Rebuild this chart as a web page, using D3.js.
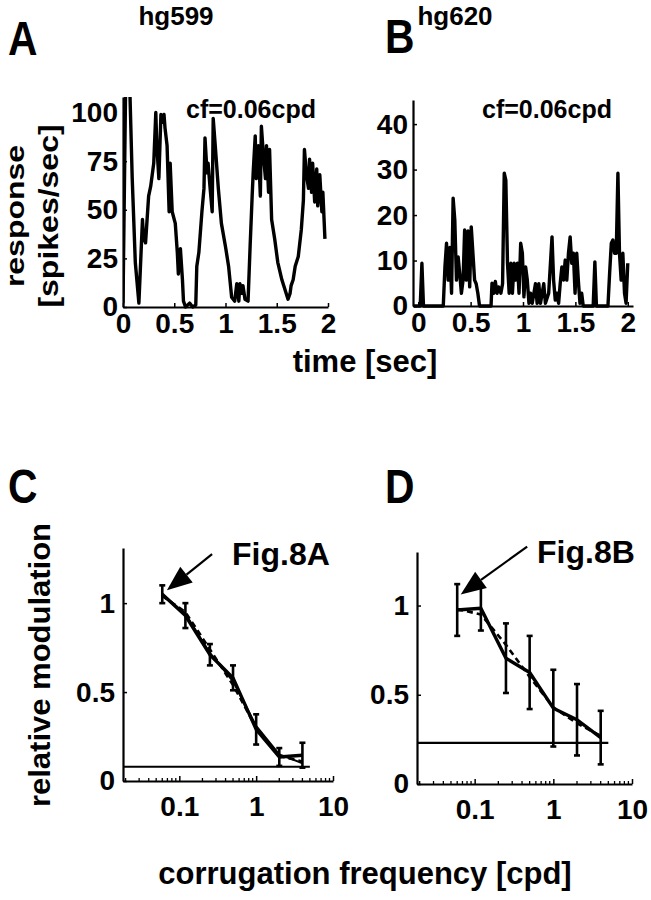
<!DOCTYPE html>
<html><head><meta charset="utf-8">
<script src="https://cdn.jsdelivr.net/npm/d3@7"></script>
<style>
body{margin:0;background:#fff}
svg text{font-family:"Liberation Sans",Arial,Helvetica,sans-serif;font-weight:bold;fill:#000}
</style></head>
<body>
<svg id="fig" width="651" height="900"></svg>
<script>
// ---------- data ----------
const cellA = "hg599", cellB = "hg620";
const cfLabel = "cf=0.06cpd";
const timeA = [0,0.026,0.065,0.09,0.12,0.155,0.19,0.20,0.22,0.25,0.27,0.30,0.32,0.33,0.35,0.37,0.38,0.40,0.41,0.43,0.45,0.46,0.48,0.51,0.53,0.54,0.56,0.58,0.59,0.61,0.65,0.68,0.71,0.72,0.74,0.77,0.79,0.80,0.82,0.83,0.85,0.87,0.88,0.90,0.93,0.96,1.00,1.03,1.06,1.09,1.11,1.13,1.14,1.16,1.17,1.19,1.22,1.24,1.26,1.27,1.29,1.30,1.32,1.34,1.35,1.37,1.39,1.40,1.42,1.43,1.45,1.48,1.51,1.55,1.58,1.61,1.63,1.64,1.66,1.68,1.71,1.74,1.76,1.77,1.79,1.81,1.82,1.84,1.85,1.87,1.89,1.90,1.92,1.94,1.95,1.97];
const rateA = [2,115,115,66,23,2,45,36,33,57,62,74,100,83,66,99,95,99,92,83,49,74,49,43,28,17,30,14,3,0,2,0,1,21,28,49,61,87,69,74,61,49,97,83,61,43,31,21,5,3,12,3,12,7,11,4,3,31,57,69,88,66,83,57,93,78,66,83,59,81,45,35,23,14,9,4,7,11,14,21,26,40,55,81,68,61,76,59,74,54,71,52,68,49,59,35];
const timeB = [-0.04,0.019,0.035,0.05,0.239,0.255,0.270,0.286,0.302,0.318,0.333,0.349,0.365,0.381,0.396,0.412,0.428,0.443,0.459,0.475,0.491,0.506,0.522,0.538,0.553,0.569,0.585,0.695,0.704,0.720,0.736,0.752,0.767,0.789,0.805,0.821,0.836,0.852,0.868,0.884,0.899,0.915,0.931,0.947,0.962,0.978,0.994,1.009,1.025,1.041,1.057,1.072,1.088,1.119,1.135,1.151,1.167,1.198,1.214,1.245,1.277,1.292,1.308,1.324,1.340,1.355,1.371,1.387,1.403,1.418,1.434,1.450,1.465,1.481,1.497,1.513,1.528,1.544,1.560,1.575,1.670,1.686,1.701,1.811,1.827,1.843,1.858,1.874,1.890,1.906,1.921,1.937,1.953,1.969,1.984,2.000,2.016];
const rateB = [0,0,9.4,0,0,8.6,13.8,5.7,12.9,2.8,23.7,18.9,5.7,10.8,7.1,2.8,5.7,16.7,5.7,16.5,4.2,17.4,11.6,5.7,4.9,2.8,0,0,5,2.8,5.4,2.8,4.2,2.8,4.9,29.2,27.7,9.4,2.8,9.4,2.8,9.4,5.7,9.4,2.8,13.8,11.6,2,8.6,5.7,0.6,2.8,0.6,4.9,0.6,4.9,0.6,4.9,0.6,2.8,15.2,5.7,1.3,2.8,0.6,4.9,8.6,5.7,10.1,5.7,11.6,15.2,9.4,11.6,2.8,11.6,5.7,0.6,2.8,0,0,9.7,0,0,7.3,13.8,14.5,11.6,11.6,29.2,11.6,5.7,11.6,2.8,0.6,9.4];
const rateTicksA = [0,25,50,75,100];
const rateTicksB = [0,10,20,30,40];
const timeTicks = [0,0.5,1,1.5,2];

const freqs = [0.06,0.12,0.25,0.5,1,2,4];
const modC  = [1.05,0.93,0.71,0.58,0.29,0.135,0.145];
const errC  = [0.05,0.07,0.06,0.07,0.085,0.05,0.07];
const fitC  = [1.05,0.94,0.72,0.56,0.31,0.15,0.10];
const dashC = [1.04,0.95,0.74,0.54,0.30,0.14,0.11];
const modD  = [0.975,0.985,0.705,0.625,0.425,0.36,0.26];
const errD  = [0.145,0.125,0.195,0.205,0.215,0.2,0.15];
const dashD = [0.98,0.95,0.78,0.60,0.43,0.34,0.27];
const baselineC = 0.08, baselineD = 0.23, baselineEnd = 5;
const modTicks = [0,0.5,1];
const freqTicks = [0.1,1,10];
const noteC = "Fig.8A", noteD = "Fig.8B";
const arrowC = [[0.267,1.275],[0.069,1.073]];
const arrowD = [[0.465,1.33],[0.0665,1.062]];

// ---------- drawing ----------
const svg = d3.select("#fig");
const TICK_FS = 28;

function txt(x, y, s, size, anchor, rot, sx) {
  const k = sx == null ? 1 : sx;
  return svg.append("text").text(s)
    .attr("font-size", size)
    .attr("text-anchor", anchor || "start")
    .attr("transform", rot ? `translate(${x},${y}) rotate(${rot}) scale(1,${k})`
                           : `translate(${x},${y}) scale(${k},1)`);
}

function styleAxis(g) {
  g.attr("font-family", null).attr("font-size", null);
  g.select(".domain").attr("stroke", "#000").attr("stroke-width", 2.2);
  g.selectAll(".tick line").attr("stroke", "#000").attr("stroke-width", 1.5);
  g.selectAll(".tick text").attr("font-size", TICK_FS);
}

// --- Panels A & B (PSTH) ---
function psth(xr, yr, xdom, ydom, ticksY, times, rates, clipId) {
  const x = d3.scaleLinear().domain(xdom).range(xr);
  const y = d3.scaleLinear().domain(ydom).range(yr);
  svg.append("clipPath").attr("id", clipId).append("rect")
    .attr("x", xr[0]).attr("y", yr[1]).attr("width", xr[1] - xr[0] + 2).attr("height", yr[0] - yr[1] + 2);
  const ln = d3.line().x((d, i) => x(times[i])).y(d => y(d));
  svg.append("path").datum(rates).attr("d", ln)
    .attr("fill", "none").attr("stroke", "#000").attr("stroke-width", 3.4)
    .attr("stroke-linejoin", "round").attr("clip-path", `url(#${clipId})`);
  const gy = svg.append("g").attr("transform", `translate(${xr[0]},0)`)
    .call(d3.axisLeft(y).tickValues(ticksY).tickSizeInner(-4).tickSizeOuter(0).tickPadding(5));
  styleAxis(gy);
  const gx = svg.append("g").attr("transform", `translate(0,${yr[0]})`)
    .call(d3.axisBottom(x).tickValues(timeTicks).tickFormat(d3.format("~g")).tickSizeInner(-4).tickSizeOuter(0).tickPadding(6));
  styleAxis(gx);
  return {x, y};
}

psth([123, 328], [307, 97], [0, 2], [0, 108], rateTicksA, timeA, rateA, "clipA");
psth([413, 633], [306, 100], [-0.05, 2.05], [0, 45.3], rateTicksB, timeB, rateB, "clipB");

txt(8, 55, "A", 48, "start", 0, 0.85);
txt(385, 53, "B", 48, "start", 0, 0.85);
txt(176, 25, cellA, 26, "middle");
txt(455, 25, cellB, 26, "middle");
txt(186, 118, cfLabel, 25, "start");
txt(482, 118, cfLabel, 25, "start");
txt(24, 216, "response", 32, "middle", -90, 0.82);
txt(58, 216, "[spikes/sec]", 32, "middle", -90, 0.85);
txt(365, 372, "time [sec]", 31, "middle");

// --- Panels C & D (tuning) ---
function tuning(xr, yr, ydom, mod, err, lines, base, note, notePos, arrow) {
  const x = d3.scaleLog().domain([0.0185, 10]).range(xr);
  const y = d3.scaleLinear().domain(ydom).range(yr);
  svg.append("line").attr("x1", xr[0]).attr("x2", x(baselineEnd))
    .attr("y1", y(base)).attr("y2", y(base)).attr("stroke", "#000").attr("stroke-width", 2.2);
  lines.forEach(L => {
    svg.append("path").datum(L.v)
      .attr("d", d3.line().x((d, i) => x(freqs[i])).y(d => y(d)))
      .attr("fill", "none").attr("stroke", "#000").attr("stroke-width", L.w)
      .attr("stroke-dasharray", L.dash || null).attr("stroke-linejoin", "round");
  });
  svg.append("path").datum(mod)
    .attr("d", d3.line().x((d, i) => x(freqs[i])).y(d => y(d)))
    .attr("fill", "none").attr("stroke", "#000").attr("stroke-width", 3.4).attr("stroke-linejoin", "round");
  const eb = svg.append("g").attr("stroke", "#000").attr("stroke-width", 2.6);
  freqs.forEach((f, i) => {
    const cx = x(f);
    eb.append("line").attr("x1", cx).attr("x2", cx).attr("y1", y(mod[i] - err[i])).attr("y2", y(mod[i] + err[i]));
    [mod[i] - err[i], mod[i] + err[i]].forEach(v => {
      eb.append("line").attr("x1", cx - 3).attr("x2", cx + 3).attr("y1", y(v)).attr("y2", y(v));
    });
  });
  const gy = svg.append("g").attr("transform", `translate(${xr[0]},0)`)
    .call(d3.axisLeft(y).tickValues(modTicks).tickFormat(d3.format("~g")).tickSizeInner(-4).tickSizeOuter(0).tickPadding(8));
  styleAxis(gy);
  const gx = svg.append("g").attr("transform", `translate(0,${yr[0]})`)
    .call(d3.axisBottom(x).tickValues(freqTicks).tickFormat(d3.format("~g")).tickSizeInner(-5).tickSizeOuter(0).tickPadding(15));
  styleAxis(gx);
  const minor = [];
  [0.01, 0.1, 1].forEach(dec => { for (let k = 2; k <= 9; k++) { const v = k * dec; if (v >= 0.0185 && v <= 10) minor.push(v); } });
  svg.append("g").selectAll("line").data(minor).join("line")
    .attr("x1", d => x(d)).attr("x2", d => x(d)).attr("y1", yr[0]).attr("y2", yr[0] - 3)
    .attr("stroke", "#000").attr("stroke-width", 1.3);
  const [p0, p1] = arrow.map(p => [x(p[0]), y(p[1])]);
  const ang = Math.atan2(p1[1] - p0[1], p1[0] - p0[0]);
  const hl = 25, hw = 10;
  const bx = p1[0] - hl * Math.cos(ang), by = p1[1] - hl * Math.sin(ang);
  svg.append("line").attr("x1", p0[0]).attr("y1", p0[1]).attr("x2", bx).attr("y2", by)
    .attr("stroke", "#000").attr("stroke-width", 2.2);
  svg.append("polygon").attr("points", [
    [p1[0], p1[1]],
    [bx + hw * Math.sin(ang), by - hw * Math.cos(ang)],
    [bx - hw * Math.sin(ang), by + hw * Math.cos(ang)]
  ].map(p => p.join(",")).join(" ")).attr("fill", "#000");
  txt(notePos[0], notePos[1], note, 32, "start");
}

tuning([123, 333], [781, 548], [0, 1.31], modC, errC,
  [{v: fitC, w: 2}, {v: dashC, w: 2.6, dash: "6,4"}], baselineC, noteC, [232, 565], arrowC);
tuning([417, 632], [784, 552], [0, 1.3], modD, errD,
  [{v: dashD, w: 2.6, dash: "6,4"}], baselineD, noteD, [537, 563], arrowD);

txt(8, 503, "C", 48, "start", 0, 0.85);
txt(385, 503, "D", 48, "start", 0, 0.85);
txt(50, 665, "relative modulation", 31, "middle", -90, 0.95);
txt(365, 884, "corrugation frequency [cpd]", 31, "middle");
</script>
</body></html>
